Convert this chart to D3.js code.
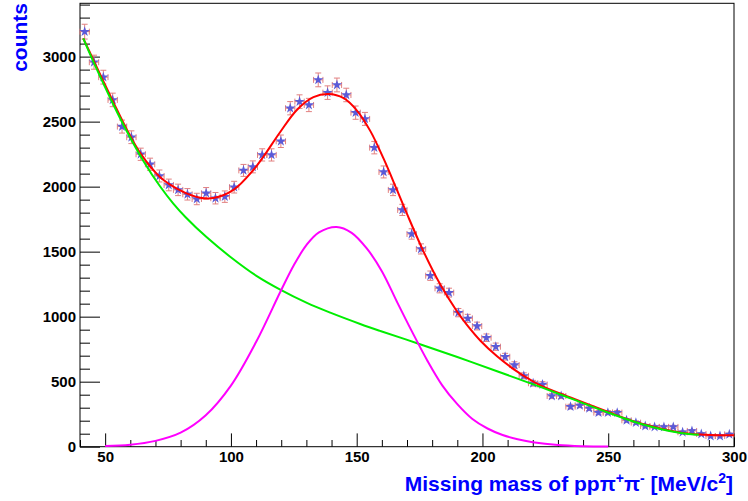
<!DOCTYPE html>
<html>
<head>
<meta charset="utf-8">
<script src="https://cdn.jsdelivr.net/npm/d3@7"></script>
<style>
  html, body { margin: 0; padding: 0; background: #fff; }
  svg { display: block; font-family: "Liberation Sans", Arial, sans-serif; }
</style>
</head>
<body>
<svg id="chart" width="748" height="501"></svg>
<script>
// ---- Data ----
const binLow = 40, binHigh = 300, nBins = 70;
const counts = [3192,2957,2842,2667,2462,2380,2249,2172,2082,2013,
                1975,1941,1905,1949,1911,1923,1996,2125,2152,2244,
                2244,2349,2603,2654,2628,2821,2723,2782,2705,2569,
                2521,2300,2113,1975,1821,1636,1521,1315,1218,1185,
                1031,987,928,838,769,692,628,545,488,478,
                390,390,308,318,295,262,262,262,203,185,
                159,152,152,152,111,121,98,82,82,95];
const errors = [57,54,53,52,50,49,47,47,46,45,
                44,44,44,44,44,44,45,46,46,47,
                47,48,51,52,51,53,52,53,52,51,
                50,48,46,44,43,40,39,36,35,34,
                32,31,30,29,28,26,25,23,22,22,
                20,20,18,18,17,16,16,16,14,14,
                13,12,12,12,11,11,10,9,9,10];

// total fit (red)
const totalX = [41.3,45.3,53.3,58.6,63.9,71.8,79.8,87.8,93,101,109,112.9,119.6,126.2,132.8,138.8,144.8,150.1,155.5,160.7,166,170,176.6,183.3,189.9,193.9,199.2,205.8,212.5,219.4,223,235,250,263,279,288,294,300];
const totalY = [3140,2975,2648,2440,2260,2075,1972,1915,1912,1975,2130,2230,2420,2590,2688,2712,2680,2585,2425,2215,1975,1790,1500,1245,1040,935,815,695,595,510,472,378,267,178,108,92,88,89];

// background (green)
const bgX = [41.3,45.3,53.3,58.6,65.2,71.8,77.1,82,90.4,99.7,110.3,119.6,130.2,139.5,151.4,159.4,174.6,190,205.8,215,223,235,249.6,262.8,278.8,286];
const bgY = [3140,2962,2630,2426,2198,2003,1870,1765,1610,1461,1312,1208,1106,1031,944,890,792,690,580,516,460,372,265,177,105,92];

// signal (magenta)
const sigX = [50,60,70,80,90,100,110,120,125,130,135,142,148,154,160,166,172,178,184,190,196,202,208,214,220,230,240,250];
const sigY = [5,15,45,108,242,470,805,1205,1395,1550,1648,1690,1645,1525,1350,1115,885,665,472,327,213,140,90,57,35,13,4,1];

const yMajor = [0,500,1000,1500,2000,2500,3000];
const xMajor = [50,100,150,200,250,300];

// ---- Layout ----
const L = 80, R = 734, T = 3.3, B = 446.7;
const svg = d3.select("#chart");
const x = d3.scaleLinear().domain([binLow, binHigh]).range([L, R]);
const y = d3.scaleLinear().domain([0, 3410]).range([B, T]);

// axes
const yMinor = d3.range(0, 3401, 100).filter(v => v % 500 !== 0);
const xMinor = d3.range(40, 301, 10).filter(v => v % 50 !== 0);

const gy = svg.append("g").attr("transform", `translate(${L},0)`);
gy.call(d3.axisLeft(y).tickValues(yMinor).tickSize(-10).tickFormat(""));
gy.call(g => g.select(".domain").remove());
const gy2 = svg.append("g").attr("transform", `translate(${L},0)`);
gy2.call(d3.axisLeft(y).tickValues(yMajor).tickSize(-20).tickPadding(4).tickFormat(d3.format("d")));
gy2.select(".domain").remove();
gy2.selectAll("text").attr("font-size", 15).attr("font-weight", "bold").attr("fill", "#000");

const gx = svg.append("g").attr("transform", `translate(0,${B})`);
gx.call(d3.axisBottom(x).tickValues(xMinor).tickSize(-6.7).tickFormat(""));
gx.select(".domain").remove();
const gx2 = svg.append("g").attr("transform", `translate(0,${B})`);
gx2.call(d3.axisBottom(x).tickValues(xMajor).tickSize(-13.3).tickPadding(5).tickFormat(d3.format("d")));
gx2.select(".domain").remove();
gx2.selectAll("text").attr("font-size", 15).attr("font-weight", "bold").attr("fill", "#000");
svg.selectAll(".tick line").attr("stroke", "#000").attr("stroke-width", 1);

// frame
svg.append("rect").attr("x", L).attr("y", T).attr("width", R - L).attr("height", B - T)
  .attr("fill", "none").attr("stroke", "#000").attr("stroke-width", 1);

// data points
const bw = (binHigh - binLow) / nBins;
const pts = counts.map((c, i) => ({ xc: binLow + (i + 0.5) * bw, c, e: errors[i] }));
const errColor = "#e28080";
const gp = svg.append("g");
const cap = 3;
pts.forEach(p => {
  const cx = x(p.xc), cy = y(p.c);
  const x0 = x(p.xc - bw / 2), x1 = x(p.xc + bw / 2);
  const y0 = y(p.c - p.e), y1 = y(p.c + p.e);
  const g = gp.append("g").attr("stroke", errColor).attr("stroke-width", 1).attr("fill", "none");
  g.append("line").attr("x1", x0).attr("x2", x1).attr("y1", cy).attr("y2", cy);
  g.append("line").attr("x1", cx).attr("x2", cx).attr("y1", y0).attr("y2", y1);
  g.append("line").attr("x1", x0).attr("x2", x0).attr("y1", cy - cap).attr("y2", cy + cap);
  g.append("line").attr("x1", x1).attr("x2", x1).attr("y1", cy - cap).attr("y2", cy + cap);
  g.append("line").attr("x1", cx - cap).attr("x2", cx + cap).attr("y1", y0).attr("y2", y0);
  g.append("line").attr("x1", cx - cap).attr("x2", cx + cap).attr("y1", y1).attr("y2", y1);
});
gp.selectAll("path.star").data(pts).join("path")
  .attr("class", "star")
  .attr("d", d3.symbol(d3.symbolStar, 34))
  .attr("transform", d => `translate(${x(d.xc)},${y(d.c)})`)
  .attr("fill", "#5a5ad8");

// curves
const line = d3.line().x(d => x(d[0])).y(d => y(d[1])).curve(d3.curveCatmullRom.alpha(0.5));
const zip = (a, b) => a.map((v, i) => [v, b[i]]);
svg.append("path").attr("d", line(zip(totalX, totalY))).attr("fill", "none").attr("stroke", "#ff0000").attr("stroke-width", 2);
svg.append("path").attr("d", line(zip(bgX, bgY))).attr("fill", "none").attr("stroke", "#00ee00").attr("stroke-width", 2);
svg.append("path").attr("d", line(zip(sigX, sigY))).attr("fill", "none").attr("stroke", "#ff00ff").attr("stroke-width", 2);

// titles
svg.append("text").attr("transform", "translate(26.5,3) rotate(-90)")
  .attr("text-anchor", "end").attr("font-size", 21).attr("font-weight", "bold").attr("fill", "#0000ff")
  .text("counts");

const xt = svg.append("text").attr("x", 733).attr("y", 491).attr("text-anchor", "end")
  .attr("font-size", 21).attr("font-weight", "bold").attr("fill", "#0000ff");
xt.append("tspan").text("Missing mass of pp\u03c0");
xt.append("tspan").attr("font-size", 14).attr("dy", -8).text("+");
xt.append("tspan").attr("dy", 8).text("\u03c0");
xt.append("tspan").attr("font-size", 14).attr("dy", -8).text("-");
xt.append("tspan").attr("dy", 8).text(" [MeV/c");
xt.append("tspan").attr("font-size", 14).attr("dy", -8).text("2");
xt.append("tspan").attr("dy", 8).text("]");
</script>
</body>
</html>
